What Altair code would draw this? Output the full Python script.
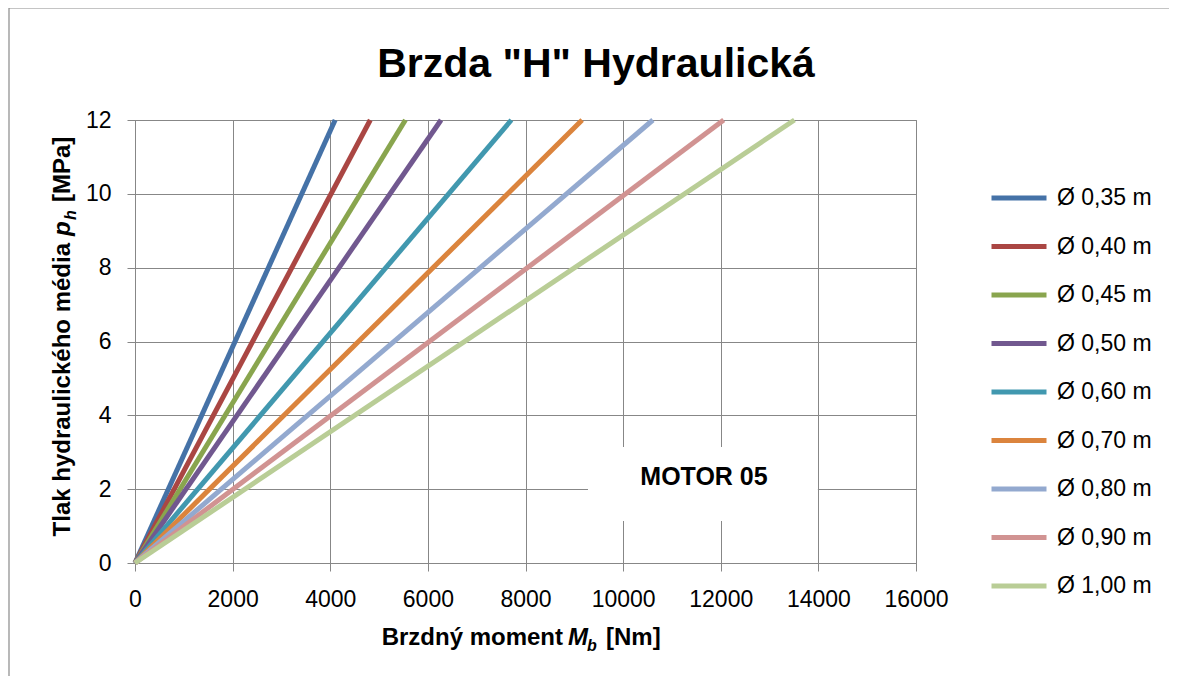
import altair as alt
import pandas as pd

# ---- data ----
diameters = ["Ø 0,35 m", "Ø 0,40 m", "Ø 0,45 m", "Ø 0,50 m", "Ø 0,60 m",
             "Ø 0,70 m", "Ø 0,80 m", "Ø 0,90 m", "Ø 1,00 m"]
moment_start = [0, 0, 0, 0, 0, 0, 0, 0, 0]
pressure_start = [0, 0, 0, 0, 0, 0, 0, 0, 0]
moment_end = [4100, 4820, 5540, 6270, 7710, 9160, 10610, 12060, 13510]
pressure_end = [12, 12, 12, 12, 12, 12, 12, 12, 12]
colors = ["#4572A7", "#AA4643", "#89A54E", "#71588F", "#4198AF",
          "#DB843D", "#93A9CF", "#D19392", "#B9CD96"]
x_ticks = [0, 2000, 4000, 6000, 8000, 10000, 12000, 14000, 16000]
y_ticks = [0, 2, 4, 6, 8, 10, 12]
note_text = ["MOTOR 05"]

rows = []
for d, m0, p0, m1, p1 in zip(diameters, moment_start, pressure_start, moment_end, pressure_end):
    rows.append({"d": d, "M": m0, "p": p0})
    rows.append({"d": d, "M": m1, "p": p1})
df = pd.DataFrame(rows)

W, H = 781, 443
FONT = "Liberation Sans"
GRID = "#878787"

xs = alt.Scale(domain=[0, 16000], nice=False)
ys = alt.Scale(domain=[0, 12], nice=False)

one = pd.DataFrame({"k": [0]})

frame = alt.Chart(one).mark_rect(fill=None, stroke="#8a8a8a", strokeWidth=1.2).encode(
    x=alt.value(-126), x2=alt.value(1300), y=alt.value(-112), y2=alt.value(800)
)

lines = alt.Chart(df).mark_line(strokeWidth=5).encode(
    x=alt.X("M:Q", scale=xs, axis=alt.Axis(values=x_ticks, title=None, format="d",
                                          labelPadding=17, tickSize=8,
                                          labelFlush=False, labelOverlap=False)),
    y=alt.Y("p:Q", scale=ys, axis=alt.Axis(values=y_ticks, title=None,
                                          labelPadding=16, tickSize=8,
                                          labelFlush=False, labelOverlap=False)),
    color=alt.Color("d:N", scale=alt.Scale(domain=diameters, range=colors),
                    legend=alt.Legend(title=None, orient="none", legendX=854, legendY=48,
                                      symbolType="stroke", symbolStrokeWidth=5,
                                      symbolSize=3025, labelFontSize=23, labelFont=FONT,
                                      labelColor="black", labelOffset=8, rowPadding=6.5)),
    detail="d:N",
)

box_df = pd.DataFrame({"x1": [9280], "x2": [13990], "y1": [1.14], "y2": [3.14],
                       "tx": [11657], "ty": [2.33], "t": note_text})
box = alt.Chart(box_df).mark_rect(fill="white", stroke=None).encode(
    x=alt.X("x1:Q", scale=xs), x2="x2:Q", y=alt.Y("y1:Q", scale=ys), y2="y2:Q"
)
box_text = alt.Chart(box_df).mark_text(font=FONT, fontSize=25, fontWeight="bold",
                                       color="black", baseline="middle").encode(
    x=alt.X("tx:Q", scale=xs), y=alt.Y("ty:Q", scale=ys), text="t:N"
)


def label(txt, x, y, size=24, style="normal", align="left", angle=0):
    return alt.Chart(one).mark_text(text=txt, font=FONT, fontSize=size, fontWeight="bold",
                                    fontStyle=style, align=align, baseline="alphabetic",
                                    angle=angle, color="black").encode(
        x=alt.value(x), y=alt.value(y))


title = label('Brzda "H" Hydraulická', 461, -43, size=41, align="center")

xt = [
    label("Brzdný moment", 428, 525, align="right"),
    label("M", 433, 525, style="italic"),
    label("b", 452, 531, size=16, style="italic"),
    label("[Nm]", 471, 525),
]
yt = [
    label("Tlak hydraulického média", -65, 123, align="right", angle=270),
    label("p", -65, 116, style="italic", angle=270),
    label("h", -59, 100, size=16, style="italic", angle=270),
    label("[MPa]", -65, 82, angle=270),
]

chart = alt.layer(frame, lines, box, box_text, title, *xt, *yt).properties(
    width=W, height=H,
    background="white",
    autosize=alt.AutoSizeParams(type="none"),
    padding={"left": 127, "top": 112, "right": 253, "bottom": 113},
).configure_view(stroke=GRID, strokeWidth=1).configure_axis(
    labelFont=FONT, labelFontSize=23, labelColor="black",
    gridColor=GRID, gridWidth=1, gridOpacity=1,
    domainColor=GRID, domainWidth=1, tickColor=GRID, tickWidth=1,
)

chart.save("out.html", embed_options={"renderer": "svg", "actions": False})
